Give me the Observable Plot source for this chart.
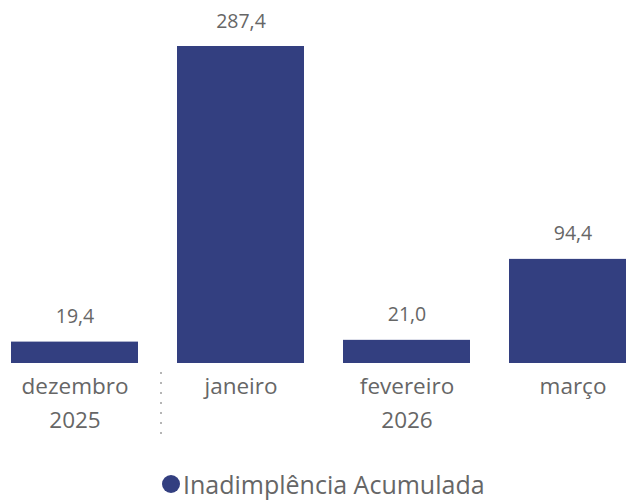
<!DOCTYPE html>
<html>
<head>
<meta charset="utf-8">
<script src="https://cdn.jsdelivr.net/npm/d3@7"></script>
<script src="https://cdn.jsdelivr.net/npm/@observablehq/plot@0.6"></script>
<style>
  html, body { margin: 0; padding: 0; background: #fff; }
  #chart { width: 626px; height: 500px; position: relative; overflow: hidden; font-family: "Open Sans", sans-serif; }
  #legend { position: absolute; left: 162px; top: 458px; height: 52px; display: flex; align-items: center; color: #666; font-size: 25px; white-space: nowrap; }
  #legend .dot { width: 18px; height: 18px; border-radius: 50%; background: #333F80; margin-right: 3px; }
</style>
</head>
<body>
<div id="chart"></div>
<script>
const months = ["dezembro", "janeiro", "fevereiro", "março"];
const tickLabels = ["dezembro\n2025", "janeiro", "fevereiro\n2026", "março"];
const values = [19.4, 287.4, 21.0, 94.4];
const seriesName = "Inadimplência Acumulada";
const separatorBefore = ["janeiro"];

const data = months.map((m, i) => ({month: m, value: values[i], label: tickLabels[i]}));
const fmt = v => v.toFixed(1).replace(".", ",");
const color = "#333F80";

const plot = Plot.plot({
  width: 626,
  height: 458,
  marginTop: 46,
  marginBottom: 95,
  marginLeft: 11,
  marginRight: 0,
  style: {fontFamily: "Open Sans, sans-serif", color: "#666", background: "transparent"},
  x: {domain: months, range: [11, 636], paddingInner: 0.235, paddingOuter: 0, axis: null},
  y: {domain: [0, d3.max(values)], nice: false, axis: null},
  marks: [
    Plot.barY(data, {x: "month", y: "value", fill: color}),
    Plot.text(data, {x: "month", y: "value", text: d => fmt(d.value), lineAnchor: "bottom", dy: -19, fontSize: 19.5, fill: "#666"}),
    Plot.axisX({tickSize: 0, tickPadding: 7, fontSize: 22.5, lineHeight: 1.5, label: null, tickFormat: d => tickLabels[months.indexOf(d)], fill: "#666"}),
    Plot.ruleX(separatorBefore, {x: d => d, dx: -80, insetTop: 326, insetBottom: -78, stroke: "#b5b5b5", strokeWidth: 2, strokeDasharray: "2,8"})
  ]
});
document.getElementById("chart").appendChild(plot);
const legend = document.createElement("div");
legend.id = "legend";
legend.innerHTML = `<div class="dot"></div><span></span>`;
legend.querySelector("span").textContent = seriesName;
document.getElementById("chart").appendChild(legend);
</script>
</body>
</html>
